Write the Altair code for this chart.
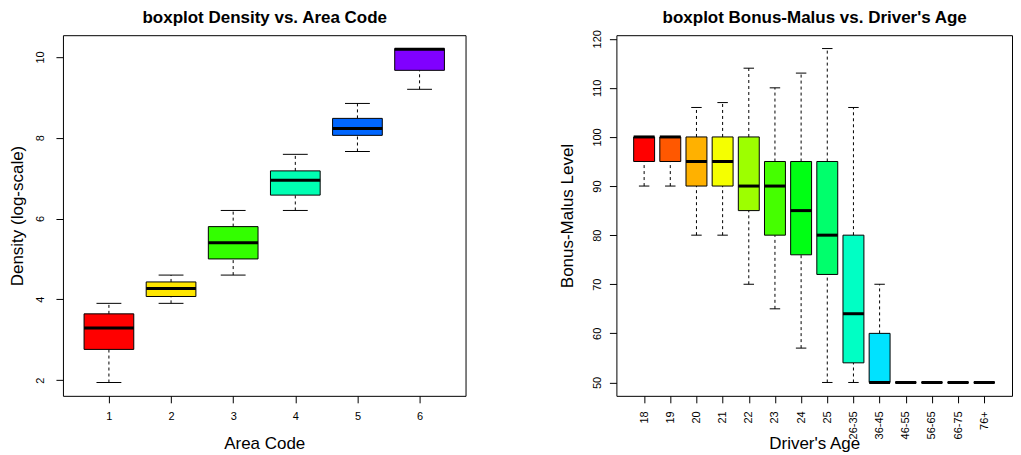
import altair as alt
import pandas as pd

FONT = "Liberation Sans"

# ---- Left panel: Density (log-scale) by Area Code ----
area_codes = ["1", "2", "3", "4", "5", "6"]
area_lo = [1.94, 3.90, 4.60, 6.20, 7.66, 9.20]
area_q1 = [2.76, 4.07, 5.00, 6.58, 8.06, 9.67]
area_med = [3.29, 4.27, 5.40, 6.95, 8.23, 10.19]
area_q3 = [3.64, 4.43, 5.80, 7.18, 8.48, 10.21]
area_hi = [3.90, 4.60, 6.20, 7.59, 8.85, 10.21]
area_colors = ["#FF0000", "#FFE600", "#33FF00", "#00FFB3", "#0066FF", "#8000FF"]

# ---- Right panel: Bonus-Malus Level by Driver's Age ----
age_groups = ["18", "19", "20", "21", "22", "23", "24", "25",
              "26-35", "36-45", "46-55", "56-65", "66-75", "76+"]
bm_lo = [90, 90, 80, 80, 70, 65, 57, 50, 50, 50, 50, 50, 50, 50]
bm_q1 = [95, 95, 90, 90, 85, 80, 76, 72, 54, 50, 50, 50, 50, 50]
bm_med = [100, 100, 95, 95, 90, 90, 85, 80, 64, 50, 50, 50, 50, 50]
bm_q3 = [100, 100, 100, 100, 100, 95, 95, 95, 80, 60, 50, 50, 50, 50]
bm_hi = [100, 100, 106, 107, 114, 110, 113, 118, 106, 70, 50, 50, 50, 50]
age_colors = ["#FF0000", "#FF5800", "#FFB100", "#F5FF00", "#9DFF00", "#45FF00",
              "#00FF14", "#00FF6C", "#00FFC4", "#00E2FF", "#0089FF", "#0031FF",
              "#2700FF", "#8000FF"]

H = 361


def panel(labels, lo, q1, med, q3, hi, colors, ydomain, yvalues, title,
          xtitle, ytitle, xlab_angle, ylab_pad, ytitle_x, width):
    n = len(labels)
    df = pd.DataFrame({
        "idx": list(range(1, n + 1)), "label": labels,
        "lo": lo, "q1": q1, "med": med, "q3": q3, "hi": hi, "color": colors,
    })
    lab_expr = "[" + ",".join("'%s'" % l for l in labels) + "][datum.value - 1]"
    xscale = alt.Scale(domain=[0.5 - 0.04 * n, n + 0.5 + 0.04 * n], nice=False, zero=False)
    yscale = alt.Scale(domain=ydomain, nice=False, zero=False)
    if xlab_angle == 0:
        xaxis = alt.Axis(values=list(range(1, n + 1)), labelExpr=lab_expr, title=xtitle,
                         labelAngle=0, labelAlign="center", labelBaseline="top",
                         labelPadding=8, titleY=53, titleBaseline="alphabetic")
    else:
        xaxis = alt.Axis(values=list(range(1, n + 1)), labelExpr=lab_expr, title=xtitle,
                         labelAngle=-90, labelAlign="right", labelBaseline="middle",
                         labelPadding=8, titleY=53, titleBaseline="alphabetic")
    # main title carried by a label-less top axis
    topaxis = alt.Axis(orient="top", title=title, labels=False, ticks=False,
                       domain=False, grid=False, titleFontWeight="bold",
                       titleFontSize=17, titleY=-12.4, titleBaseline="alphabetic")
    yaxis = alt.Axis(values=yvalues, title=ytitle, labelAngle=-90, labelAlign="center",
                     labelBaseline="middle", labelPadding=ylab_pad,
                     titleAngle=-90, titleX=ytitle_x, titleY=H / 2,
                     titleAlign="center", titleBaseline="middle")

    def X(f, axis=None):
        return alt.X(f, type="quantitative", scale=xscale, axis=axis)

    def Y(f):
        return alt.Y(f, type="quantitative", scale=yscale, axis=yaxis)

    base = alt.Chart(df).transform_calculate(
        xl="datum.idx - 0.4", xr="datum.idx + 0.4",
        cl="datum.idx - 0.2", cr="datum.idx + 0.2")

    dash = dict(color="black", strokeWidth=1, strokeDash=[3, 3])
    w_lo = base.mark_rule(**dash).encode(x=X("idx"), y=Y("lo"), y2="q1")
    w_hi = base.mark_rule(**dash).encode(x=X("idx"), y=Y("q3"), y2="hi")
    c_lo = base.mark_rule(color="black", strokeWidth=1).encode(x=X("cl"), x2="cr", y=Y("lo"))
    c_hi = base.mark_rule(color="black", strokeWidth=1).encode(x=X("cl"), x2="cr", y=Y("hi"))
    box = base.mark_rect(stroke="black", strokeWidth=1).encode(
        x=X("xl", xaxis), x2="xr", y=Y("q1"), y2="q3",
        fill=alt.Fill("color:N", scale=None))
    med_l = base.mark_rule(color="black", strokeWidth=3).encode(
        x=X("xl", topaxis), x2="xr", y=Y("med"))

    return alt.layer(w_lo, w_hi, c_lo, c_hi, box, med_l).resolve_axis(
        x="independent").properties(width=width, height=H)


left = panel(area_codes, area_lo, area_q1, area_med, area_q3, area_hi, area_colors,
             [1.61, 10.54], [2, 4, 6, 8, 10], "boxplot Density vs. Area Code",
             "Area Code", "Density (log-scale)", 0, 15, -45.5, 403)
right = panel(age_groups, bm_lo, bm_q1, bm_med, bm_q3, bm_hi, age_colors,
              [47.28, 120.72], [50, 60, 70, 80, 90, 100, 110, 120],
              "boxplot Bonus-Malus vs. Driver's Age",
              "Driver's Age", "Bonus-Malus Level", -90, 11.5, -49, 396)

chart = alt.hconcat(left, right, spacing=151, bounds="flush").properties(
    padding=0, background="white"
).configure_view(
    stroke="black", strokeWidth=1
).configure_axis(
    domain=False, grid=False, ticks=True, tickSize=7, tickWidth=1, tickColor="black",
    labelFont=FONT, labelFontSize=11, labelColor="black", labelOverlap=False,
    labelFlush=False,
    titleFont=FONT, titleFontSize=17, titleFontWeight="normal", titleColor="black"
)

chart.save("out.html", embed_options={"renderer": "svg", "actions": False})
